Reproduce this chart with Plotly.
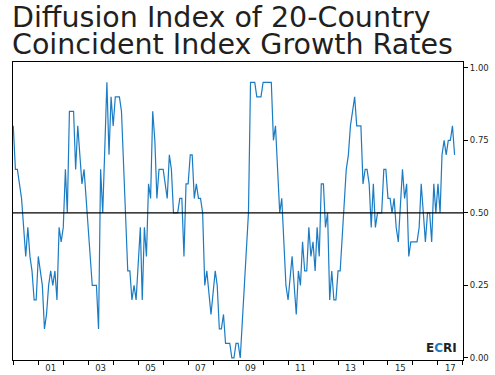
import plotly.graph_objects as go

dates = [
    "2000-01", "2000-02", "2000-03", "2000-05", "2000-07", "2000-08", "2000-09", "2000-10", "2000-11", "2000-12",
    "2001-01", "2001-02", "2001-03", "2001-04", "2001-05", "2001-06", "2001-07", "2001-08", "2001-09", "2001-10", "2001-11", "2001-12",
    "2002-01", "2002-02", "2002-03", "2002-04", "2002-06", "2002-07", "2002-08", "2002-10", "2002-11",
    "2003-03", "2003-05", "2003-06", "2003-07", "2003-08", "2003-09", "2003-10", "2003-11", "2003-12",
    "2004-01", "2004-02", "2004-04", "2004-05", "2004-08", "2004-09", "2004-10", "2004-11", "2004-12",
    "2005-02", "2005-03", "2005-04", "2005-05", "2005-06", "2005-07", "2005-08", "2005-09", "2005-10", "2005-11",
    "2006-01", "2006-03", "2006-04", "2006-05", "2006-06", "2006-08", "2006-09", "2006-10", "2006-11", "2006-12",
    "2007-01", "2007-02", "2007-03", "2007-04", "2007-05", "2007-06", "2007-07", "2007-08", "2007-09", "2007-10", "2007-12",
    "2008-02", "2008-03", "2008-04", "2008-05", "2008-06", "2008-07", "2008-09", "2008-10", "2008-11", "2008-12",
    "2009-01", "2009-02", "2009-06", "2009-07", "2009-09", "2009-10", "2009-12",
    "2010-01", "2010-05", "2010-06", "2010-07", "2010-09", "2010-10", "2010-12",
    "2011-01", "2011-03", "2011-05", "2011-06", "2011-07", "2011-08", "2011-09", "2011-10", "2011-11", "2011-12",
    "2012-01", "2012-02", "2012-03", "2012-04", "2012-05", "2012-06", "2012-07", "2012-08", "2012-09", "2012-10", "2012-11", "2012-12",
    "2013-01", "2013-02", "2013-05", "2013-06", "2013-07", "2013-08", "2013-09", "2013-10", "2013-12",
    "2014-01", "2014-02", "2014-03", "2014-04", "2014-05", "2014-06", "2014-07", "2014-08", "2014-10", "2014-11", "2014-12",
    "2015-01", "2015-02", "2015-03", "2015-04", "2015-05", "2015-06", "2015-08", "2015-09", "2015-10", "2015-11", "2015-12",
    "2016-01", "2016-03", "2016-04", "2016-05", "2016-06", "2016-07", "2016-08", "2016-09", "2016-10", "2016-11", "2016-12",
    "2017-01", "2017-02", "2017-03", "2017-04", "2017-05", "2017-06", "2017-07", "2017-08", "2017-09",
]

values = [
    0.80, 0.65, 0.65, 0.55, 0.35, 0.45, 0.35, 0.30, 0.20, 0.20,
    0.35, 0.30, 0.25, 0.10, 0.15, 0.25, 0.30, 0.25, 0.30, 0.20, 0.45, 0.40,
    0.45, 0.65, 0.50, 0.85, 0.85, 0.65, 0.80, 0.60, 0.65,
    0.25, 0.25, 0.10, 0.65, 0.50, 0.70, 0.95, 0.70, 0.90,
    0.80, 0.90, 0.90, 0.85, 0.30, 0.30, 0.20, 0.25, 0.20,
    0.45, 0.20, 0.45, 0.35, 0.60, 0.55, 0.85, 0.75, 0.55, 0.65,
    0.65, 0.55, 0.70, 0.65, 0.50, 0.50, 0.55, 0.55, 0.35, 0.60,
    0.60, 0.70, 0.70, 0.55, 0.60, 0.55, 0.55, 0.50, 0.25, 0.30, 0.15,
    0.30, 0.25, 0.10, 0.10, 0.15, 0.05, 0.05, 0.00, 0.00, 0.05,
    0.05, 0.00, 0.50, 0.95, 0.95, 0.90, 0.90,
    0.95, 0.95, 0.75, 0.80, 0.50, 0.55, 0.25,
    0.20, 0.35, 0.15, 0.30, 0.25, 0.40, 0.30, 0.30, 0.45, 0.35,
    0.40, 0.30, 0.45, 0.35, 0.60, 0.60, 0.45, 0.50, 0.20, 0.30, 0.20, 0.20,
    0.30, 0.30, 0.65, 0.70, 0.80, 0.85, 0.90, 0.80, 0.80,
    0.60, 0.65, 0.65, 0.60, 0.45, 0.60, 0.45, 0.50, 0.50, 0.65, 0.65,
    0.55, 0.55, 0.50, 0.55, 0.45, 0.40, 0.65, 0.55, 0.60, 0.35, 0.40,
    0.40, 0.40, 0.45, 0.60, 0.50, 0.40, 0.50, 0.50, 0.40, 0.60, 0.50,
    0.60, 0.50, 0.70, 0.75, 0.70, 0.75, 0.75, 0.80, 0.70,
]

x_tick_vals = ["2001-07-01", "2003-07-01", "2005-07-01", "2007-07-01", "2009-07-01",
               "2011-07-01", "2013-07-01", "2015-07-01", "2017-07-01"]
x_tick_text = ["01", "03", "05", "07", "09", "11", "13", "15", "17"]
y_tick_vals = [0.0, 0.25, 0.5, 0.75, 1.0]
y_tick_text = ["0.00", "0.25", "0.50", "0.75", "1.00"]

title_line1 = "Diffusion Index of 20-Country"
title_line2 = "Coincident Index Growth Rates"

INK = "#231f20"
BLUE = "#1b7cc4"
TFONT = "DejaVu Sans"
FONT = "DejaVu Sans"

fig = go.Figure()
fig.add_trace(go.Scatter(
    x=dates, y=values, mode="lines",
    line=dict(color=BLUE, width=1.2),
    showlegend=False, hoverinfo="skip",
))

fig.add_shape(type="line", xref="paper", yref="y", x0=0, x1=1, y0=0.5, y1=0.5,
              line=dict(color="black", width=1.3), layer="above")

fig.update_layout(
    width=495, height=375,
    margin=dict(l=13, r=32, t=62, b=15),
    paper_bgcolor="white", plot_bgcolor="white",
    font=dict(family=FONT, color=INK),
    xaxis=dict(
        type="date", range=["1999-12-28", "2018-01-02"], automargin=False,
        tickmode="array", tickvals=x_tick_vals, ticktext=x_tick_text,
        ticks="", ticklen=0, showgrid=False, zeroline=False,
        showline=True, linecolor="black", linewidth=1.3, mirror=True,
        tickfont=dict(size=8.5, color=INK, family=FONT),
        minor=dict(ticks="outside", ticklen=4, tickcolor="black", tickwidth=1,
                   dtick="M12", tick0="2000-01-01", showgrid=False),
    ),
    yaxis=dict(
        range=[-0.007, 1.02], side="right", automargin=False,
        tickmode="array", tickvals=y_tick_vals, ticktext=y_tick_text,
        ticks="outside", ticklen=4, tickcolor="black", tickwidth=1,
        showgrid=False, zeroline=False,
        showline=True, linecolor="black", linewidth=1.3, mirror=True,
        tickfont=dict(size=8.5, color=INK, family=FONT),
    ),
)

fig.add_annotation(xref="paper", yref="paper", x=-0.006, y=1.0 + 44.5 / 298.0,
                   xanchor="left", yanchor="middle", showarrow=False,
                   text=title_line1, font=dict(size=28.5, color=INK, family=TFONT))
fig.add_annotation(xref="paper", yref="paper", x=-0.006, y=1.0 + 17.5 / 298.0,
                   xanchor="left", yanchor="middle", showarrow=False,
                   text=title_line2, font=dict(size=28.5, color=INK, family=TFONT))

fig.add_annotation(xref="paper", yref="paper", x=0.99, y=0.04,
                   xanchor="right", yanchor="middle", showarrow=False,
                   text="<b>E<span style='color:%s'>C</span>RI</b>" % BLUE,
                   font=dict(size=12, color=INK, family=FONT))

fig.write_html("out.html", config={"displayModeBar": False},
               post_script="document.body.style.margin='0';")
